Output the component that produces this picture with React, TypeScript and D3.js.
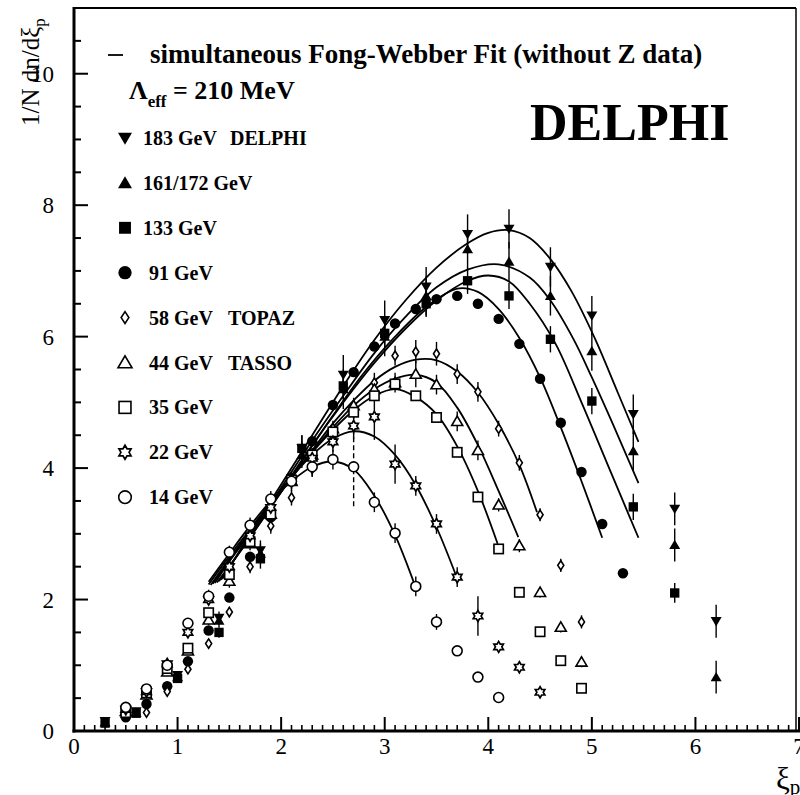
import React from "react";
import * as d3 from "d3";

// ---------- data ----------
const x183 = [0.3, 0.6, 1.0, 1.4, 1.8, 2.2, 2.6, 3.0, 3.4, 3.8, 4.2, 4.6, 5.0, 5.4, 5.8, 6.2];
const y183 = [0.15, 0.3, 0.85, 1.72, 2.75, 4.3, 5.42, 6.25, 6.76, 7.56, 7.64, 7.06, 6.32, 4.82, 3.38, 1.67];
const e183 = [0.03, 0.04, 0.06, 0.1, 0.15, 0.2, 0.3, 0.3, 0.3, 0.3, 0.3, 0.3, 0.3, 0.3, 0.25, 0.25];

const x161 = [0.3, 0.6, 1.0, 1.4, 1.8, 2.2, 2.6, 3.0, 3.4, 3.8, 4.2, 4.6, 5.0, 5.4, 5.8, 6.2];
const y161 = [0.13, 0.28, 0.82, 1.68, 2.7, 4.2, 5.2, 6.0, 6.62, 7.33, 7.14, 6.62, 5.78, 4.26, 2.83, 0.82];
const e161 = [0.03, 0.04, 0.06, 0.1, 0.15, 0.2, 0.3, 0.3, 0.3, 0.3, 0.3, 0.3, 0.3, 0.3, 0.25, 0.25];

const x133 = [0.3, 0.6, 1.0, 1.4, 1.8, 2.2, 2.6, 3.0, 3.4, 3.8, 4.2, 4.6, 5.0, 5.4, 5.8];
const y133 = [0.12, 0.27, 0.8, 1.5, 2.62, 4.3, 5.25, 6.05, 6.5, 6.85, 6.62, 5.96, 5.02, 3.41, 2.1];
const e133 = [0.03, 0.03, 0.05, 0.08, 0.15, 0.2, 0.2, 0.2, 0.2, 0.2, 0.2, 0.2, 0.2, 0.2, 0.15];

const x91 = [0.5, 0.7, 0.9, 1.1, 1.3, 1.5, 1.7, 1.9, 2.1, 2.3, 2.5, 2.7, 2.9, 3.1, 3.3, 3.5, 3.7, 3.9, 4.1, 4.3, 4.5, 4.7, 4.9, 5.1, 5.3];
const y91 = [0.21, 0.41, 0.68, 1.06, 1.53, 2.03, 2.65, 3.25, 3.85, 4.41, 4.96, 5.46, 5.85, 6.2, 6.42, 6.57, 6.62, 6.5, 6.27, 5.89, 5.36, 4.69, 3.94, 3.15, 2.4];
const e91 = [0.02, 0.02, 0.02, 0.02, 0.03, 0.03, 0.03, 0.03, 0.03, 0.03, 0.03, 0.03, 0.03, 0.03, 0.03, 0.03, 0.03, 0.03, 0.03, 0.03, 0.03, 0.03, 0.03, 0.03, 0.03];

const x58 = [0.7, 0.9, 1.1, 1.3, 1.5, 1.7, 1.9, 2.1, 2.3, 2.5, 2.7, 2.9, 3.1, 3.3, 3.5, 3.7, 3.9, 4.1, 4.3, 4.5, 4.7, 4.9];
const y58 = [0.28, 0.6, 0.94, 1.33, 1.81, 2.5, 3.12, 3.55, 3.99, 4.45, 4.9, 5.3, 5.71, 5.77, 5.74, 5.43, 5.16, 4.6, 4.08, 3.29, 2.52, 1.66];
const e58 = [0.03, 0.04, 0.05, 0.06, 0.08, 0.1, 0.12, 0.12, 0.12, 0.12, 0.15, 0.15, 0.15, 0.18, 0.18, 0.15, 0.15, 0.12, 0.12, 0.1, 0.1, 0.1];

const x44 = [0.5, 0.7, 0.9, 1.1, 1.3, 1.5, 1.7, 1.9, 2.1, 2.3, 2.5, 2.7, 2.9, 3.1, 3.3, 3.5, 3.7, 3.9, 4.1, 4.3, 4.5, 4.7, 4.9];
const y44 = [0.3, 0.55, 0.9, 1.22, 1.69, 2.28, 2.85, 3.3, 3.8, 4.2, 4.6, 4.95, 5.2, 5.3, 5.43, 5.27, 4.71, 4.27, 3.44, 2.82, 2.11, 1.58, 1.05];
const e44 = [0.03, 0.04, 0.05, 0.06, 0.08, 0.1, 0.1, 0.1, 0.1, 0.1, 0.12, 0.12, 0.15, 0.15, 0.2, 0.15, 0.15, 0.15, 0.1, 0.1, 0.08, 0.08, 0.08];

const x35 = [0.5, 0.7, 0.9, 1.1, 1.3, 1.5, 1.7, 1.9, 2.1, 2.3, 2.5, 2.7, 2.9, 3.1, 3.3, 3.5, 3.7, 3.9, 4.1, 4.3, 4.5, 4.7, 4.9];
const y35 = [0.28, 0.58, 0.95, 1.26, 1.8, 2.38, 2.88, 3.3, 3.82, 4.2, 4.55, 4.85, 5.1, 5.28, 5.1, 4.77, 4.24, 3.56, 2.77, 2.11, 1.51, 1.07, 0.65];
const e35 = [0.03, 0.03, 0.04, 0.05, 0.05, 0.05, 0.05, 0.05, 0.05, 0.05, 0.05, 0.05, 0.05, 0.06, 0.06, 0.06, 0.06, 0.06, 0.05, 0.05, 0.05, 0.05, 0.05];

const x22 = [0.5, 0.7, 0.9, 1.1, 1.3, 1.5, 1.7, 1.9, 2.1, 2.3, 2.5, 2.7, 2.9, 3.1, 3.3, 3.5, 3.7, 3.9, 4.1, 4.3, 4.5];
const y22 = [0.33, 0.6, 1.02, 1.5, 2.0, 2.5, 2.97, 3.4, 3.8, 4.15, 4.4, 4.64, 4.78, 4.06, 3.73, 3.15, 2.34, 1.75, 1.28, 0.97, 0.59];
const e22 = [0.03, 0.04, 0.05, 0.06, 0.08, 0.1, 0.1, 0.1, 0.12, 0.15, 0.15, 0.2, 0.35, 0.3, 0.15, 0.15, 0.15, 0.3, 0.05, 0.05, 0.05];

const x14 = [0.5, 0.7, 0.9, 1.1, 1.3, 1.5, 1.7, 1.9, 2.1, 2.3, 2.5, 2.7, 2.9, 3.1, 3.3, 3.5, 3.7, 3.9, 4.1];
const y14 = [0.36, 0.64, 1.0, 1.64, 2.05, 2.72, 3.13, 3.53, 3.8, 4.02, 4.13, 4.02, 3.48, 3.01, 2.2, 1.66, 1.22, 0.82, 0.51];
const e14 = [0.03, 0.04, 0.05, 0.06, 0.1, 0.1, 0.12, 0.12, 0.15, 0.15, 0.15, 0.6, 0.15, 0.15, 0.15, 0.12, 0.05, 0.05, 0.05];

// fit curves
const fx14 = [1.3, 1.5, 1.7, 1.9, 2.1, 2.3, 2.5, 2.7, 2.9, 3.1, 3.3];
const fy14 = [2.27, 2.7, 3.12, 3.5, 3.8, 4.02, 4.1, 3.98, 3.58, 2.98, 2.18];
const fx22 = [1.3, 1.5, 1.7, 1.9, 2.1, 2.3, 2.5, 2.7, 2.9, 3.1, 3.3, 3.5, 3.7];
const fy22 = [2.23, 2.66, 3.07, 3.48, 3.86, 4.2, 4.45, 4.56, 4.48, 4.2, 3.74, 3.1, 2.32];
const fx35 = [1.32, 1.5, 1.7, 1.9, 2.1, 2.3, 2.5, 2.7, 2.9, 3.1, 3.3, 3.5, 3.7, 3.9, 4.09];
const fy35 = [2.22, 2.62, 3.04, 3.46, 3.87, 4.24, 4.58, 4.88, 5.1, 5.2, 5.08, 4.82, 4.33, 3.65, 2.85];
const fx44 = [1.34, 1.5, 1.7, 1.9, 2.1, 2.3, 2.5, 2.7, 2.9, 3.1, 3.3, 3.5, 3.7, 3.9, 4.1, 4.29];
const fy44 = [2.24, 2.6, 3.02, 3.44, 3.86, 4.25, 4.62, 4.95, 5.2, 5.36, 5.42, 5.3, 4.92, 4.35, 3.65, 2.95];
const fx58 = [1.36, 1.5, 1.7, 1.9, 2.1, 2.3, 2.5, 2.7, 2.9, 3.1, 3.3, 3.5, 3.7, 3.9, 4.1, 4.3, 4.47];
const fy58 = [2.25, 2.58, 3.0, 3.42, 3.85, 4.27, 4.68, 5.03, 5.33, 5.54, 5.65, 5.64, 5.47, 5.15, 4.67, 4.05, 3.33];
const fx91 = [1.38, 1.6, 1.9, 2.2, 2.5, 2.8, 3.1, 3.4, 3.7, 3.9, 4.1, 4.3, 4.5, 4.7, 4.9, 5.1];
const fy91 = [2.26, 2.72, 3.4, 4.1, 4.8, 5.45, 6.0, 6.45, 6.73, 6.68, 6.42, 5.98, 5.38, 4.62, 3.8, 2.94];
const fx133 = [1.4, 1.7, 2.0, 2.3, 2.6, 2.9, 3.2, 3.5, 3.8, 4.0, 4.2, 4.4, 4.65, 4.9, 5.1, 5.3, 5.45];
const fy133 = [2.28, 2.95, 3.65, 4.35, 5.0, 5.6, 6.12, 6.55, 6.85, 6.93, 6.84, 6.5, 5.89, 5.0, 4.25, 3.5, 2.94];
const fx161 = [1.42, 1.7, 2.0, 2.3, 2.6, 2.9, 3.2, 3.5, 3.8, 4.1, 4.4, 4.6, 4.82, 5.0, 5.2, 5.45];
const fy161 = [2.3, 2.97, 3.7, 4.42, 5.1, 5.75, 6.3, 6.75, 7.02, 7.1, 6.9, 6.55, 5.97, 5.38, 4.68, 3.77];
const fx183 = [1.44, 1.7, 2.0, 2.3, 2.6, 2.9, 3.2, 3.5, 3.8, 4.0, 4.2, 4.4, 4.6, 4.8, 5.03, 5.25, 5.45];
const fy183 = [2.32, 3.0, 3.75, 4.5, 5.25, 5.95, 6.55, 7.05, 7.42, 7.58, 7.62, 7.5, 7.18, 6.7, 5.97, 5.15, 4.4];

const legendLabels = ["183 GeV", "161/172 GeV", "133 GeV", "91 GeV", "58 GeV", "44 GeV", "35 GeV", "22 GeV", "14 GeV"];
const legendExtra = ["DELPHI", "", "", "", "TOPAZ", "TASSO", "", "", ""];
const markerKinds = ["tdown", "tup", "fsquare", "fcircle", "diamond", "otri", "osquare", "star", "ocircle"];
const xTicksMajor = [0, 1, 2, 3, 4, 5, 6, 7];
const yTicksMajor = [0, 2, 4, 6, 8, 10];

const series = [
  { xs: x183, ys: y183, es: e183, kind: "tdown" },
  { xs: x161, ys: y161, es: e161, kind: "tup" },
  { xs: x133, ys: y133, es: e133, kind: "fsquare" },
  { xs: x91, ys: y91, es: e91, kind: "fcircle" },
  { xs: x58, ys: y58, es: e58, kind: "diamond" },
  { xs: x44, ys: y44, es: e44, kind: "otri" },
  { xs: x35, ys: y35, es: e35, kind: "osquare" },
  { xs: x22, ys: y22, es: e22, kind: "star" },
  { xs: x14, ys: y14, es: e14, kind: "ocircle" },
];
const fits = [
  [fx14, fy14], [fx22, fy22], [fx35, fy35], [fx44, fy44], [fx58, fy58],
  [fx91, fy91], [fx133, fy133], [fx161, fy161], [fx183, fy183],
];

// ---------- scales ----------
const xS = d3.scaleLinear().domain([0, 7]).range([74, 799]);
const yS = d3.scaleLinear().domain([0, 11]).range([731, 8]);

const FONT = "'Liberation Serif', 'DejaVu Serif', serif";

function Marker({ kind, cx, cy, s }: { kind: string; cx: number; cy: number; s: number }) {
  const sw = 1.6;
  switch (kind) {
    case "tdown":
      return <path d={`M${cx - s},${cy - s * 0.75}L${cx + s},${cy - s * 0.75}L${cx},${cy + s * 0.95}Z`} fill="#000" />;
    case "tup":
      return <path d={`M${cx - s},${cy + s * 0.75}L${cx + s},${cy + s * 0.75}L${cx},${cy - s * 0.95}Z`} fill="#000" />;
    case "fsquare":
      return <rect x={cx - s * 0.85} y={cy - s * 0.85} width={s * 1.7} height={s * 1.7} fill="#000" />;
    case "fcircle":
      return <circle cx={cx} cy={cy} r={s * 0.95} fill="#000" />;
    case "diamond":
      return <path d={`M${cx},${cy - s * 0.85}L${cx + s * 0.55},${cy}L${cx},${cy + s * 0.85}L${cx - s * 0.55},${cy}Z`} fill="#fff" stroke="#000" strokeWidth={sw} />;
    case "otri":
      return <path d={`M${cx - s},${cy + s * 0.75}L${cx + s},${cy + s * 0.75}L${cx},${cy - s * 0.95}Z`} fill="#fff" stroke="#000" strokeWidth={sw} strokeLinejoin="miter" />;
    case "osquare":
      return <rect x={cx - s * 0.85} y={cy - s * 0.85} width={s * 1.7} height={s * 1.7} fill="#fff" stroke="#000" strokeWidth={sw} />;
    case "star": {
      const pts: string[] = [];
      for (let i = 0; i < 12; i++) {
        const a = -Math.PI / 2 + (i * Math.PI) / 6;
        const r = i % 2 === 0 ? s : s * 0.58;
        pts.push(`${cx + r * Math.cos(a)},${cy + r * Math.sin(a)}`);
      }
      return <path d={`M${pts.join("L")}Z`} fill="#fff" stroke="#000" strokeWidth={1.7} strokeLinejoin="miter" />;
    }
    case "ocircle":
      return <circle cx={cx} cy={cy} r={s * 0.9} fill="#fff" stroke="#000" strokeWidth={sw} />;
  }
  return null;
}

export default function App() {
  const line = d3
    .line<[number, number]>()
    .x((d) => xS(d[0]))
    .y((d) => yS(d[1]))
    .curve(d3.curveCatmullRom.alpha(0.5));

  const xMinor = d3.range(1, 70).map((i) => i / 10).filter((v) => Math.abs(v - Math.round(v)) > 1e-6);
  const yMinor = d3.range(1, 22).map((i) => i / 2).filter((v) => v % 2 !== 0);

  const legendY = d3.range(9).map((i) => 138 + i * 44.9);

  return (
    <svg width={800} height={795} style={{ position: "absolute", left: 0, top: 0, background: "#fff" }} fontFamily={FONT}>
      <rect x={0} y={0} width={800} height={795} fill="#fff" />
      {/* frame */}
      <line x1={xS(0)} x2={796} y1={yS(11)} y2={yS(11)} stroke="#000" strokeWidth={1.8} />
      <line x1={796} x2={796} y1={yS(11)} y2={yS(0)} stroke="#000" strokeWidth={1.5} />
      <line x1={xS(0)} x2={xS(0)} y1={yS(11) - 1} y2={yS(0) + 1.5} stroke="#000" strokeWidth={3} />
      <line x1={xS(0) - 1.5} x2={800} y1={yS(0)} y2={yS(0)} stroke="#000" strokeWidth={3} />

      {/* y ticks */}
      {yTicksMajor.map((v) => (
        <g key={"ym" + v}>
          {v > 0 && <line x1={xS(0)} x2={xS(0) + 14} y1={yS(v)} y2={yS(v)} stroke="#000" strokeWidth={2} />}
          <text x={54} y={yS(v)} dy="0.35em" textAnchor="end" fontSize={23}>{v}</text>
        </g>
      ))}
      {yMinor.map((v) => (
        <line key={"yn" + v} x1={xS(0)} x2={xS(0) + 7} y1={yS(v)} y2={yS(v)} stroke="#000" strokeWidth={2} />
      ))}
      {/* x ticks */}
      {xTicksMajor.map((v) => (
        <g key={"xm" + v}>
          {v > 0 && <line x1={xS(v)} x2={xS(v)} y1={yS(0)} y2={yS(0) - 14} stroke="#000" strokeWidth={2} />}
          <text x={xS(v)} y={754} textAnchor="middle" fontSize={23}>{v}</text>
        </g>
      ))}
      {xMinor.map((v) => (
        <line key={"xn" + v} x1={xS(v)} x2={xS(v)} y1={yS(0)} y2={yS(0) - 6} stroke="#000" strokeWidth={1.6} />
      ))}

      {/* axis titles */}
      <text transform="translate(39,126) rotate(-90)" fontSize={25}>
        1/N dn/dξ<tspan fontSize={17} dy={6}>p</tspan>
      </text>
      <text x={776} y={789} fontSize={31}>
        ξ<tspan fontSize={21} dy={5}>p</tspan>
      </text>

      {/* fits */}
      {fits.map((f, i) => (
        <path key={"f" + i} d={line(f[0].map((xv, j) => [xv, f[1][j]] as [number, number])) || ""} fill="none" stroke="#000" strokeWidth={1.8} />
      ))}

      {/* error bars */}
      {series.map((s, i) =>
        s.xs.map((xv, j) => (
          <line key={`e${i}-${j}`} x1={xS(xv)} x2={xS(xv)} y1={yS(s.ys[j] - s.es[j])} y2={yS(s.ys[j] + s.es[j])}
            stroke="#000" strokeWidth={1.4} strokeDasharray={s.es[j] > 0.5 ? "5,3" : undefined} />
        ))
      )}
      {/* markers */}
      {series.map((s, i) =>
        s.xs.map((xv, j) => <Marker key={`m${i}-${j}`} kind={s.kind} cx={xS(xv)} cy={yS(s.ys[j])} s={5.5} />)
      )}

      {/* legend */}
      <line x1={108} x2={123} y1={55} y2={55} stroke="#000" strokeWidth={1.8} />
      <text x={150} y={63} fontSize={27} fontWeight="bold">simultaneous Fong-Webber Fit (without Z data)</text>
      <text x={129} y={99} fontSize={26} fontWeight="bold">
        Λ<tspan fontSize={17} dy={8}>eff</tspan><tspan dy={-8}> = 210 MeV</tspan>
      </text>
      {legendLabels.map((lab, i) => (
        <g key={"lg" + i}>
          <Marker kind={markerKinds[i]} cx={125} cy={legendY[i]} s={7} />
          <text x={i < 3 ? 143 : 149} y={legendY[i] + 7} fontSize={20} fontWeight="bold">{lab}</text>
          {legendExtra[i] && (
            <text x={i === 0 ? 230 : 228} y={legendY[i] + 7} fontSize={20} fontWeight="bold">{legendExtra[i]}</text>
          )}
        </g>
      ))}
      <text x={530} y={140} fontSize={52} fontWeight="bold">DELPHI</text>
    </svg>
  );
}
